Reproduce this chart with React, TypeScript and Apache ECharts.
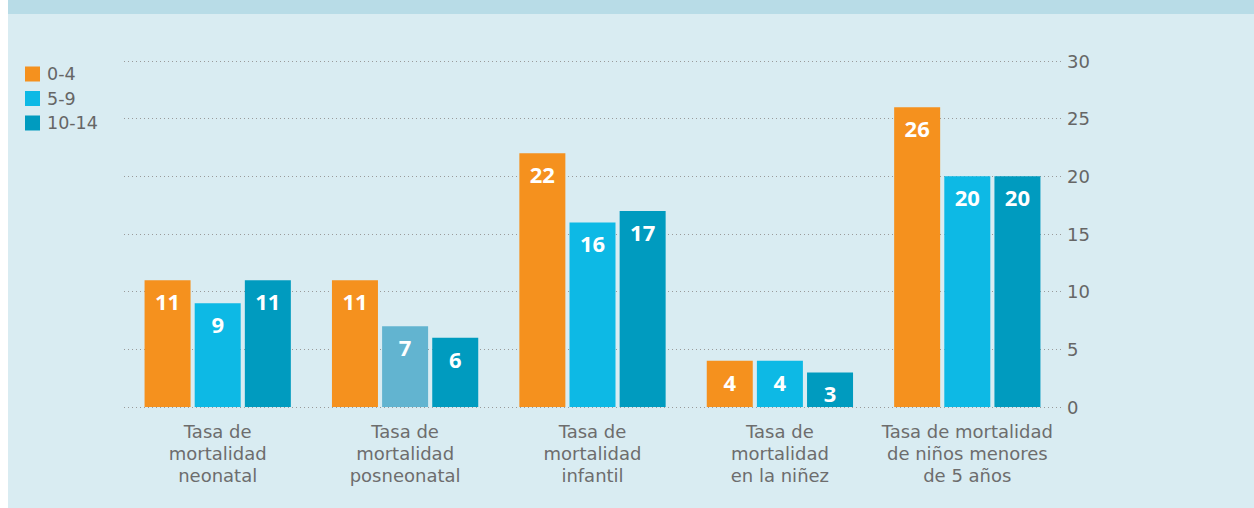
import React, { useEffect, useRef } from "react";
import * as echarts from "echarts";

const categories = [
  "Tasa de\nmortalidad\nneonatal",
  "Tasa de\nmortalidad\nposneonatal",
  "Tasa de\nmortalidad\ninfantil",
  "Tasa de\nmortalidad\nen la niñez",
  "Tasa de mortalidad\nde niños menores\nde 5 años",
];
const seriesNames = ["0-4", "5-9", "10-14"];
const values0to4 = [11, 11, 22, 4, 26];
const values5to9 = [9, 7, 16, 4, 20];
const values10to14 = [11, 6, 17, 3, 20];
const yTicks = [0, 5, 10, 15, 20, 25, 30];

const colors = ["#f5911e", "#0db9e5", "#009bbf"];
const FONT = "'DejaVu Sans', 'Open Sans', sans-serif";
const BOLD_FONT = "'Open Sans', 'Noto Sans', sans-serif";

export default function App() {
  const ref = useRef<HTMLDivElement>(null);
  useEffect(() => {
    document.body.style.margin = "0";
    const chart = echarts.init(ref.current!, null, { renderer: "svg" });
    const label = {
      show: true,
      position: "insideTop",
      distance: 10,
      color: "#ffffff",
      fontSize: 22,
      fontWeight: "bold",
      fontFamily: BOLD_FONT,
    };
    const data5to9 = values5to9.map((v, i) =>
      i === 1 ? { value: v, itemStyle: { color: "#62b4d0" } } : v
    );
    const all = [values0to4, data5to9, values10to14];
    chart.setOption({
      animation: false,
      backgroundColor: "#d9ecf2",
      color: colors,
      graphic: [
        {
          type: "rect",
          shape: { x: 0, y: 0, width: 1246, height: 14 },
          style: { fill: "#b8dce7" },
          silent: true,
        },
      ],
      legend: {
        orient: "vertical",
        left: 12,
        top: 60,
        itemWidth: 15,
        itemHeight: 15,
        itemGap: 6.5,
        icon: "rect",
        textStyle: { color: "#666666", fontSize: 17.5, fontFamily: FONT, padding: [0, 0, 0, 2] },
        data: seriesNames,
      },
      grid: { left: 116, right: 193, top: 61, bottom: 101 },
      xAxis: {
        type: "category",
        data: categories,
        axisLine: { show: false },
        axisTick: { show: false },
        axisLabel: {
          color: "#6d6d6d",
          fontSize: 18,
          lineHeight: 22,
          fontFamily: FONT,
          margin: 13,
          interval: 0,
        },
      },
      yAxis: {
        type: "value",
        position: "right",
        min: yTicks[0],
        max: yTicks[yTicks.length - 1],
        interval: 5,
        axisLine: { show: false },
        axisTick: { show: false },
        axisLabel: {
          color: "#666666",
          fontSize: 18,
          fontFamily: FONT,
          margin: 6,
        },
        splitLine: {
          show: true,
          lineStyle: { color: "#9a9a9a", type: [1, 3], width: 1 },
        },
      },
      series: seriesNames.map((name, i) => ({
        name,
        type: "bar",
        data: all[i],
        barWidth: 46,
        barGap: "9%",
        label,
      })),
    });
    return () => chart.dispose();
  }, []);
  return (
    <div
      ref={ref}
      style={{ position: "absolute", left: 8, top: 0, width: 1246, height: 508 }}
    />
  );
}
